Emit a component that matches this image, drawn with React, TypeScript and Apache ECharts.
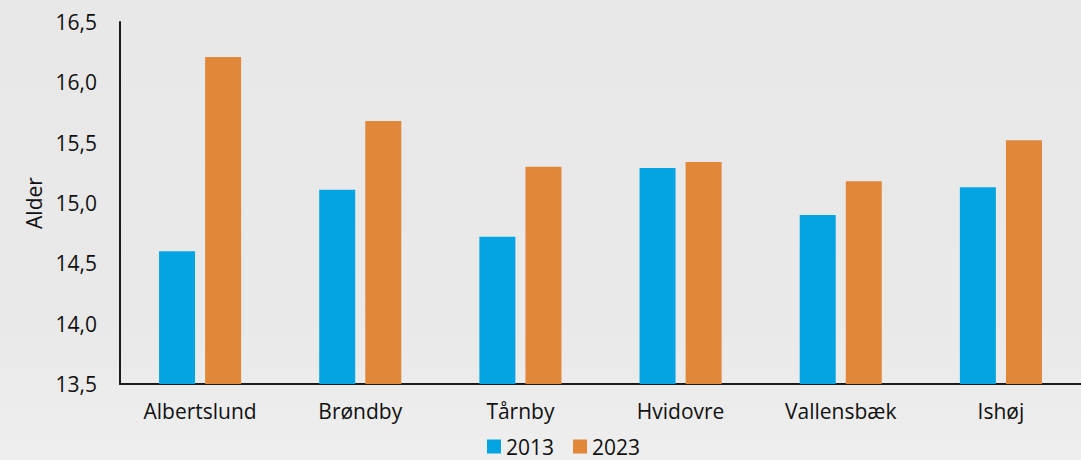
import React, { useEffect, useRef } from "react";
import * as echarts from "echarts";

// Municipalities on the x axis
const categories = ["Albertslund", "Brøndby", "Tårnby", "Hvidovre", "Vallensbæk", "Ishøj"];
// Average age per municipality, by year
const values2013 = [14.6, 15.11, 14.72, 15.29, 14.9, 15.13];
const values2023 = [16.21, 15.68, 15.3, 15.34, 15.18, 15.52];
const seriesNames = ["2013", "2023"];
const yMin = 13.5;
const yMax = 16.5;
const yStep = 0.5;

const FONT = "'Open Sans', Lato, sans-serif";
const BLUE = "#03a4e1";
const ORANGE = "#e0873a";

export default function App() {
  const ref = useRef<HTMLDivElement>(null);

  useEffect(() => {
    if (!ref.current) return;
    const chart = echarts.init(ref.current, undefined, { renderer: "svg" });
    chart.setOption({
      animation: false,
      backgroundColor: {
        type: "linear",
        x: 0,
        y: 0,
        x2: 0,
        y2: 1,
        colorStops: [
          { offset: 0, color: "#e8e8e8" },
          { offset: 0.7, color: "#e9e9e9" },
          { offset: 1, color: "#eeeeee" },
        ],
      },
      textStyle: { fontFamily: FONT },
      grid: { left: 120, right: 0, top: 22, bottom: 76, containLabel: false },
      legend: {
        data: seriesNames,
        left: 487,
        top: 436,
        padding: 0,
        icon: "rect",
        itemWidth: 14,
        itemHeight: 14,
        itemGap: 19,
        textStyle: { fontFamily: FONT, fontSize: 21, lineHeight: 18, color: "#111" },
      },
      xAxis: {
        type: "category",
        data: categories,
        axisLine: { lineStyle: { color: "#1a1a1a", width: 2 } },
        axisTick: { show: false },
        axisLabel: { fontFamily: FONT, fontSize: 21, color: "#111", margin: 16 },
      },
      yAxis: {
        type: "value",
        min: yMin,
        max: yMax,
        interval: yStep,
        name: "Alder",
        nameLocation: "middle",
        nameGap: 74,
        nameTextStyle: { fontFamily: FONT, fontSize: 21, color: "#111" },
        axisLine: { show: true, lineStyle: { color: "#1a1a1a", width: 2 } },
        axisTick: { show: false },
        splitLine: { show: false },
        axisLabel: {
          fontFamily: FONT,
          fontSize: 21,
          color: "#111",
          margin: 23,
          formatter: (v: number) => v.toFixed(1).replace(".", ","),
        },
      },
      series: [
        {
          name: seriesNames[0],
          type: "bar",
          data: values2013,
          barWidth: 36,
          barGap: "28%",
          itemStyle: { color: BLUE },
        },
        {
          name: seriesNames[1],
          type: "bar",
          data: values2023,
          barWidth: 36,
          barGap: "28%",
          itemStyle: { color: ORANGE },
        },
      ],
    });
    return () => chart.dispose();
  }, []);

  return (
    <div
      ref={ref}
      style={{ position: "fixed", left: 0, top: 0, width: 1081, height: 460 }}
    />
  );
}
